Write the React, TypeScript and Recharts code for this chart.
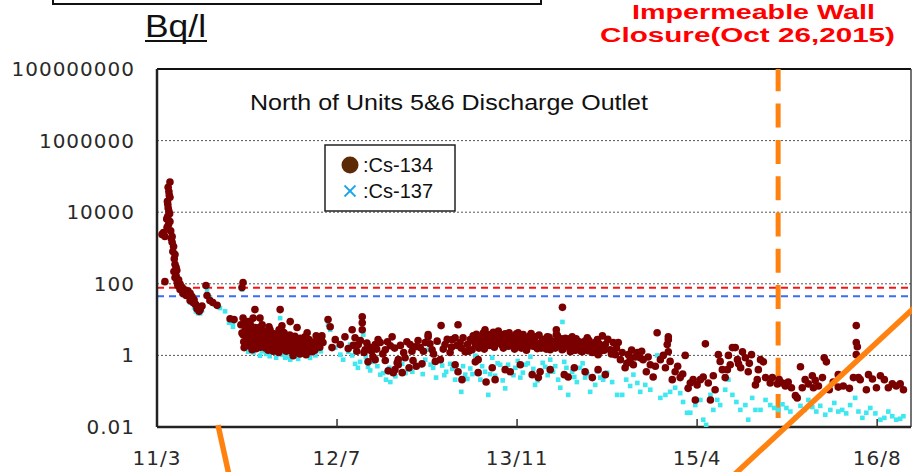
import React from 'react';
import { ScatterChart, Scatter, XAxis, YAxis, CartesianGrid, ReferenceLine } from 'recharts';

type Pt = [number, number]; // [days since 2011/3, Bq/l]

const xTicks = [0, 500, 1000, 1500, 2000];
const xTickLabels = ['11/3', '12/7', '13/11', '15/4', '16/8'];
const yTicks = [0.01, 1, 100, 10000, 1000000, 100000000];
const xMax = 2094;
const wallClosureDay = 1725;
const limitRed = 77;
const limitBlue = 45;

// Cs-134
const cs134Spike: Pt[] = [
  [36, 70000], [33, 38000], [36, 26000], [30, 16600], [33, 10700], [30, 7700], [36, 5500], [28, 3800],
  [22, 2100], [14, 2400], [42, 2100], [42, 1450], [44, 800], [50, 660], [50, 350], [53, 290], [22, 115],
  [47, 220], [50, 150], [56, 115], [58, 90], [64, 98], [70, 79], [75, 69], [81, 61], [86, 64], [92, 54],
  [97, 44], [103, 36], [108, 26], [114, 22], [100, 30], [92, 34], [81, 47], [72, 54], [64, 69], [58, 108],
  [53, 170], [120, 19], [125, 24], [136, 90], [139, 47], [155, 30], [167, 25], [147, 34], [203, 10.6],
  [214, 10], [239, 108], [236, 79], [31, 50000], [34, 30000], [29, 20000], [31, 13000], [35, 9000],
  [27, 6500], [32, 4500], [38, 3000], [18, 2700], [40, 1800], [46, 1100], [48, 500], [55, 240], [60, 130],
  [66, 85], [78, 58], [88, 50], [95, 40], [105, 28], [111, 20], [117, 17],
];
const cs134Y2011: Pt[] = [
  [272, 19], [342, 19], [239, 11], [253, 8.8], [267, 11], [286, 11], [292, 7.2], [245, 5.2], [258, 3.8],
  [272, 6], [281, 3.1], [300, 4.3], [314, 5.2], [320, 3.1], [328, 2.0], [336, 3.8], [350, 2.75], [356, 1.44],
  [364, 2.0], [375, 1.27], [384, 1.9], [392, 2.75], [397, 1.1], [406, 1.65], [411, 3.3], [425, 2.0],
  [439, 1.65], [242, 1.65], [264, 1.44], [283, 2.1], [308, 2.4], [347, 6.7], [370, 8.8], [389, 6], [417, 4.3],
  [250, 2.75], [292, 2.75], [339, 1.65], [378, 0.98], [431, 1.27], [447, 2.75], [233, 7.2], [239, 3.8],
  [247, 6.8], [256, 5.2], [261, 2.3], [270, 3.1], [278, 4.0], [289, 5.2], [297, 2.75], [306, 3.5], [311, 6.3],
  [317, 2.0], [325, 4.0], [331, 2.5], [339, 5.2], [345, 3.3], [353, 4.3], [358, 2.5], [367, 3.1], [372, 2.1],
  [381, 2.9], [386, 1.65], [395, 2.3], [403, 1.2], [408, 2.1], [414, 1.05], [422, 2.75], [428, 1.55],
  [436, 2.3], [442, 3.5], [450, 2.0], [456, 2.75], [236, 4.2], [241, 2.4], [244, 8.5], [249, 3.2],
  [252, 1.9], [255, 4.6], [259, 7.5], [262, 1.75], [265, 3.9], [268, 2.2], [273, 4.8], [276, 1.55],
  [279, 2.9], [284, 6], [287, 1.7], [290, 3.6], [294, 2.4], [298, 4.8], [301, 1.6], [305, 2.6], [309, 1.4],
  [312, 3.9], [316, 1.7], [319, 2.9], [323, 1.3], [327, 3.2], [330, 1.6], [334, 2.3], [338, 1.2], [341, 2.9],
  [344, 1.5], [348, 4.6], [352, 1.9], [355, 3], [359, 1.3], [362, 2.2], [366, 1.5], [369, 3.7], [373, 1.6],
  [377, 2.4], [380, 1.4], [383, 3.4], [387, 1.3], [391, 2.1], [394, 1.5], [398, 3], [401, 1.7], [405, 2.6],
  [409, 1.4], [413, 2.3], [416, 1.6], [420, 1.9], [424, 1.3], [427, 2.4], [433, 1.8], [438, 1.4], [444, 2.1],
  [452, 1.7], [458, 3.5], [461, 2.3],
];
const cs134Y2012: Pt[] = [
  [475, 10], [481, 6.3], [495, 2.75], [509, 2.0], [522, 3.3], [486, 1.65], [531, 1.55], [570, 12], [570, 8.2],
  [570, 5.2], [542, 5.2], [550, 3.1], [559, 2.0], [578, 1.44], [592, 1.65], [606, 2.0], [600, 0.92],
  [614, 2.75], [634, 1.44], [648, 1.86], [653, 3.3], [661, 0.40], [670, 0.55], [670, 0.76], [681, 0.33],
  [689, 0.86], [703, 2.0], [717, 1.75], [731, 1.65], [745, 2.3], [753, 3.3], [764, 1.44], [773, 0.68],
  [787, 0.76], [789, 6.8], [753, 3.8], [800, 2.0], [814, 1.2], [828, 3.1], [842, 2.3], [836, 7.2], [828, 0.55],
  [836, 0.35], [847, 0.21], [856, 1.27], [870, 2.75], [884, 2.0], [875, 1.44], [892, 0.76], [711, 0.72],
  [736, 0.58], [634, 0.72], [606, 0.76], [586, 0.66], [642, 0.37], [656, 0.33], [667, 0.62], [720, 0.5],
  [700, 0.45], [545, 1.9], [555, 1.3], [565, 2.6], [575, 1.2], [583, 2.2], [596, 1.3], [610, 1.5], [620, 2.3],
  [627, 1.1], [640, 2.4], [660, 1.6], [676, 1.9], [685, 1.2], [694, 2.4], [708, 1.3], [725, 2.6], [740, 1.3],
  [758, 2.1], [768, 1.1], [778, 2.5], [795, 1.5], [806, 2.8], [818, 1.7], [845, 1.6], [866, 1.3],
];
const cs134Y2013: Pt[] = [
  [898, 3.3], [911, 2.75], [925, 3.8], [939, 2.3], [953, 3.1], [967, 4.0], [981, 2.75], [995, 2.3],
  [1003, 3.5], [1014, 2.75], [1023, 2.0], [1031, 3.1], [1042, 2.5], [1050, 3.3], [1064, 2.0], [1078, 2.75],
  [1087, 1.75], [1098, 2.5], [1126, 22], [1109, 5.2], [1109, 3.8], [1153, 3.3], [1189, 2.5], [1203, 1.75],
  [1217, 2.3], [1231, 1.6], [1131, 2.0], [1159, 1.44], [1175, 1.75], [1120, 2.3], [884, 0.66], [892, 0.33],
  [914, 0.18], [931, 0.45], [939, 0.21], [967, 0.40], [981, 0.35], [1009, 0.55], [1042, 0.29], [1059, 0.24],
  [1064, 0.35], [1092, 0.40], [1131, 0.29], [1142, 0.25], [1159, 0.45], [1189, 0.35], [1209, 0.24],
  [1225, 0.40], [1245, 0.29], [911, 5.2], [948, 4.8], [1003, 4.3], [820, 2.75], [834, 1.9], [850, 3.1],
  [862, 2.0], [878, 3.5], [889, 2.5], [903, 1.9], [917, 3.3], [931, 2.1], [945, 2.75], [959, 1.9], [973, 2.6],
  [986, 3.3], [1000, 1.75], [1009, 2.0], [1028, 1.65], [1036, 3.5], [1056, 1.55], [1073, 2.3], [1084, 3.3],
  [1092, 1.44], [1103, 1.9], [1114, 2.75], [1125, 1.44], [1139, 2.3], [1148, 1.27], [1167, 2.0], [1181, 1.27],
  [1195, 3.1], [1209, 1.2], [1223, 2.75], [1225, 1.05], [882, 2.4], [887, 3.9], [894, 1.6], [900, 2.7],
  [906, 4.2], [909, 1.5], [914, 2.2], [920, 3.6], [923, 1.9], [928, 2.9], [934, 4.4], [937, 1.7], [942, 3.4],
  [950, 2.2], [956, 3.8], [962, 1.6], [965, 2.6], [970, 3.5], [976, 1.8], [978, 4.3], [984, 2.3], [990, 3.1],
  [993, 1.5], [998, 4], [1006, 2.6], [1012, 1.6], [1017, 3.8], [1020, 2.3], [1026, 1.4], [1033, 2.4],
  [1039, 4.1], [1045, 1.8], [1048, 2.9], [1053, 2.2], [1061, 3.7], [1067, 1.6], [1070, 2.8], [1076, 2.1],
  [1081, 1.5], [1089, 3.2], [1095, 2.1], [1106, 1.6], [1112, 3.6], [1117, 1.9], [1123, 2.9], [1128, 1.5],
  [1134, 3], [1137, 1.8], [1145, 2.9], [1150, 1.9], [1156, 2.4], [1162, 1.4], [1164, 2.9], [1170, 1.6],
  [1173, 2.4], [1178, 1.3], [1184, 2.1], [1186, 1.5], [1192, 1.9], [1198, 1.35], [1200, 2.6], [1206, 1.6],
  [1212, 1.9], [1214, 1.25], [1220, 1.7], [1228, 2.1], [1234, 1.35],
];
const cs134Y2015: Pt[] = [
  [1237, 3.5], [1245, 2.0], [1259, 1.44], [1267, 2.3], [1273, 1.05], [1281, 2.3], [1287, 0.76], [1300, 0.45],
  [1309, 1.05], [1314, 0.76], [1323, 0.55], [1334, 1.2], [1342, 0.86], [1350, 0.76], [1359, 0.35],
  [1370, 0.55], [1378, 0.25], [1389, 4.3], [1398, 0.76], [1406, 1.0], [1417, 2.0], [1420, 2.75], [1420, 3.3],
  [1420, 1.27], [1425, 0.68], [1431, 0.21], [1439, 0.35], [1453, 0.24], [1467, 1.0], [1475, 0.12],
  [1481, 0.17], [1489, 0.21], [1500, 0.15], [1509, 0.21], [1517, 0.25], [1523, 2.1], [1531, 0.17],
  [1537, 0.057], [1545, 0.27], [1550, 0.11], [1559, 1.05], [1564, 0.68], [1570, 0.40], [1578, 0.24],
  [1587, 1.0], [1592, 0.55], [1598, 1.65], [1606, 1.65], [1612, 0.76], [1615, 0.58], [1626, 1.27],
  [1634, 0.86], [1642, 0.35], [1651, 1.05], [1662, 0.15], [1667, 0.21], [1676, 0.76], [1670, 0.40],
  [1495, 0.057], [1242, 1.4], [1252, 2.8], [1262, 1.1], [1276, 1.6], [1292, 1.2], [1305, 0.6], [1318, 1.4],
  [1328, 0.9], [1346, 1.3], [1364, 0.9], [1384, 0.5], [1412, 0.45], [1446, 0.5], [1460, 0.3], [1584, 0.4],
  [1621, 0.45], [1645, 0.6],
];
const cs134Y2016: Pt[] = [
  [1684, 0.66], [1690, 0.24], [1703, 0.17], [1709, 0.24], [1723, 0.16], [1728, 0.21], [1737, 0.17],
  [1745, 0.14], [1753, 0.18], [1762, 0.125], [1773, 0.075], [1778, 0.065], [1787, 0.48], [1792, 0.125],
  [1800, 0.21], [1809, 0.16], [1823, 0.125], [1828, 0.20], [1837, 0.14], [1848, 0.24], [1853, 0.86],
  [1859, 0.66], [1867, 0.11], [1878, 0.18], [1892, 0.13], [1906, 0.14], [1923, 0.12], [1934, 0.24],
  [1942, 6.8], [1942, 2.3], [1945, 1.75], [1942, 1.05], [1948, 0.24], [1953, 0.21], [1976, 0.29],
  [1987, 0.22], [1998, 0.125], [2009, 0.27], [2020, 0.21], [2031, 0.125], [2042, 0.16], [2053, 0.14],
  [2064, 0.16], [2073, 0.11], [1970, 0.11], [1892, 0.29], [1820, 0.27],
];

// Cs-137
const cs137Spike: Pt[] = [
  [108, 17], [114, 15], [97, 36], [139, 69], [147, 42], [161, 26], [175, 21], [189, 17], [200, 8.2],
  [211, 6.3], [211, 8.2], [236, 69], [92, 30], [103, 22], [120, 15], [125, 18],
];
const cs137Y2011: Pt[] = [
  [245, 2.0], [253, 1.27], [264, 2.75], [275, 1.44], [286, 0.98], [303, 1.1], [320, 1.44], [331, 0.86],
  [347, 1.05], [356, 0.86], [370, 0.76], [384, 0.92], [397, 1.05], [411, 1.44], [420, 0.98], [434, 1.2],
  [447, 1.44], [286, 2.75], [272, 5.2], [342, 11], [308, 2.0], [240, 4.5], [258, 6], [295, 3], [330, 2.3],
  [365, 1.8], [400, 2.2], [248, 3.2], [262, 1.6], [268, 1.2], [280, 2.1], [291, 1.3], [300, 1.9], [313, 0.95],
  [326, 1.2], [338, 1.6], [352, 1.3], [360, 0.9], [378, 1.2], [392, 0.8], [405, 1.1], [425, 0.85], [440, 1.0],
  [455, 1.3],
];
const cs137Y2012: Pt[] = [
  [481, 5.2], [475, 7.2], [495, 1.65], [509, 1.05], [517, 0.76], [531, 1.27], [536, 2.0], [550, 0.58],
  [564, 0.66], [573, 3.8], [586, 0.48], [598, 0.66], [606, 0.86], [620, 0.29], [636, 0.21], [648, 0.18],
  [656, 0.35], [670, 0.66], [681, 0.58], [698, 0.40], [709, 0.35], [720, 0.48], [731, 0.52], [745, 0.76],
  [753, 1.44], [767, 0.45], [781, 2.3], [792, 0.52], [803, 0.35], [814, 0.58], [828, 0.21], [839, 0.35],
  [845, 0.096], [856, 0.29], [870, 0.43], [884, 0.98], [542, 1.0], [558, 0.45], [580, 0.9], [592, 0.38],
  [612, 0.5], [628, 0.32], [645, 0.45], [662, 0.26], [690, 0.32], [715, 0.62], [738, 0.3], [760, 0.55],
  [775, 0.24], [798, 0.28], [820, 0.42], [850, 0.5], [862, 0.22], [876, 0.3],
];
const cs137Y2013: Pt[] = [
  [898, 0.21], [911, 0.35], [920, 0.079], [931, 0.86], [939, 0.27], [953, 0.55], [967, 0.12], [981, 0.35],
  [995, 0.45], [1009, 0.24], [1023, 0.55], [1037, 0.92], [1050, 0.15], [1064, 0.35], [1078, 0.48],
  [1092, 0.76], [1100, 0.35], [1126, 8.6], [1114, 0.21], [1120, 0.125], [1131, 0.66], [1142, 0.079],
  [1153, 0.35], [1159, 0.25], [1175, 0.45], [1189, 0.24], [1203, 0.096], [1217, 0.15], [1231, 0.24],
  [903, 0.5], [925, 0.3], [946, 0.6], [960, 0.2], [975, 0.55], [990, 0.28], [1002, 0.7], [1016, 0.33],
  [1030, 0.6], [1045, 0.42], [1057, 0.2], [1071, 0.62], [1085, 0.28], [1106, 0.5], [1137, 0.45], [1166, 0.18],
  [1182, 0.6], [1195, 0.3], [1222, 0.36],
];
const cs137Y2015: Pt[] = [
  [1239, 0.21], [1250, 0.33], [1264, 0.18], [1278, 0.079], [1292, 0.079], [1303, 0.21], [1314, 0.14],
  [1323, 0.29], [1334, 0.17], [1342, 0.096], [1356, 0.15], [1370, 0.11], [1389, 1.0], [1398, 0.065],
  [1412, 0.079], [1425, 0.096], [1439, 0.125], [1453, 0.088], [1461, 0.05], [1472, 0.025], [1481, 0.025],
  [1495, 0.041], [1509, 0.057], [1517, 0.016], [1525, 0.0115], [1537, 0.079], [1545, 0.030], [1556, 0.057],
  [1564, 0.041], [1578, 0.11], [1587, 0.21], [1598, 0.079], [1609, 0.05], [1620, 0.030], [1634, 0.041],
  [1642, 0.016], [1653, 0.065], [1662, 0.030], [1676, 0.030],
];
const cs137Y2016: Pt[] = [
  [1690, 0.057], [1703, 0.041], [1714, 0.034], [1726, 0.030], [1737, 0.043], [1748, 0.034], [1759, 0.027],
  [1773, 0.018], [1787, 0.039], [1798, 0.030], [1809, 0.057], [1820, 0.036], [1831, 0.027], [1842, 0.039],
  [1856, 0.022], [1870, 0.030], [1881, 0.047], [1892, 0.027], [1903, 0.030], [1914, 0.024], [1925, 0.041],
  [1939, 0.065], [1948, 0.027], [1959, 0.018], [1970, 0.025], [1981, 0.034], [1995, 0.024], [2009, 0.016],
  [2020, 0.018], [2031, 0.027], [2042, 0.020], [2053, 0.016], [2064, 0.017], [2073, 0.020],
];

const toRows = (parts: Pt[][]) => parts.flat().map(([x, y]) => ({ x, y }));
const cs134 = toRows([cs134Spike, cs134Y2011, cs134Y2012, cs134Y2013, cs134Y2015, cs134Y2016]);
const cs137 = toRows([cs137Spike, cs137Y2011, cs137Y2012, cs137Y2013, cs137Y2015, cs137Y2016]);

const tickFont = { fontFamily: 'DejaVu Sans', fontSize: 20, fill: '#2a2a2a', letterSpacing: 1 };
const ORANGE = '#ff8210';

const YTick = ({ x, y, payload }: any) => (
  <text x={x - 22} y={y} dy={7} textAnchor="end" {...tickFont}>
    {String(payload.value)}
  </text>
);

const XTick = ({ x, y, payload }: any) => {
  const i = xTicks.indexOf(payload.value);
  return (
    <g>
      {i > 0 && <line x1={x} x2={x} y1={y - 8} y2={y} stroke="#333" strokeWidth={1.5} />}
      <text x={x} y={y + 38} textAnchor="middle" {...tickFont}>
        {xTickLabels[i]}
      </text>
    </g>
  );
};

const Dot134 = (p: any) => <circle cx={p.cx} cy={p.cy} r={3.8} fill="#7a0000" />;
const Sq137 = (p: any) => <rect x={p.cx - 2.3} y={p.cy - 2.3} width={4.6} height={4.6} fill="#3fe8f0" />;

export default function App() {
  return (
    <div style={{ position: 'absolute', left: 0, top: 0, width: 912, height: 472, background: '#fff' }}>
      <ScatterChart width={912} height={472} margin={{ top: 69, right: 1, bottom: 0, left: 0 }}>
        <CartesianGrid vertical={false} stroke="#555" strokeDasharray="2 2" />
        <XAxis
          type="number"
          dataKey="x"
          domain={[0, xMax]}
          ticks={xTicks}
          interval={0}
          height={45}
          tickSize={0}
          tickMargin={0}
          tick={<XTick />}
          axisLine={{ stroke: '#222', strokeWidth: 2.5 }}
          tickLine={false}
          allowDataOverflow
        />
        <YAxis
          type="number"
          dataKey="y"
          scale="log"
          domain={[0.01, 100000000]}
          ticks={yTicks}
          interval={0}
          width={157}
          tickSize={0}
          tickMargin={0}
          tick={<YTick />}
          axisLine={{ stroke: '#222', strokeWidth: 2.5 }}
          tickLine={false}
          allowDataOverflow
        />
        <ReferenceLine y={100000000} stroke="#111" strokeWidth={2} />
        <ReferenceLine x={xMax} stroke="#444" strokeWidth={1.5} />
        <ReferenceLine y={limitRed} stroke="#ff1010" strokeWidth={2} strokeDasharray="7 5" />
        <ReferenceLine y={limitBlue} stroke="#3a6cf4" strokeWidth={2} strokeDasharray="7 5" />
        <Scatter data={cs137} shape={Sq137} isAnimationActive={false} />
        <Scatter data={cs134} shape={Dot134} isAnimationActive={false} />
        <ReferenceLine
          x={wallClosureDay}
          stroke={ORANGE}
          strokeWidth={5}
          strokeDasharray="24 12.3"
          strokeDashoffset={27.3}
        />
      </ScatterChart>
      <svg
        width={912}
        height={472}
        style={{ position: 'absolute', left: 0, top: 0, pointerEvents: 'none' }}
        fontFamily="'Liberation Sans', Arial, sans-serif"
      >
        <path d="M53,-2 V4 H541 V-2" fill="none" stroke="#111" strokeWidth={2} />
        <text x={145} y={37} fontSize={31} fill="#111" textLength={61} lengthAdjust="spacingAndGlyphs">
          Bq/l
        </text>
        <line x1={145} x2={207} y1={41} y2={41} stroke="#111" strokeWidth={2} />
        <g fill="#ff0000" fontWeight="bold" fontSize={20}>
          <text x={632} y={19} textLength={243} lengthAdjust="spacingAndGlyphs">
            Impermeable Wall
          </text>
          <text x={600} y={42} textLength={295} lengthAdjust="spacingAndGlyphs">
            Closure(Oct 26,2015)
          </text>
        </g>
        <text x={250} y={110} fontSize={22} fill="#111" textLength={398} lengthAdjust="spacingAndGlyphs">
          North of Units 5&amp;6 Discharge Outlet
        </text>
        <rect x={325} y={145} width={130} height={66} fill="#fff" stroke="#222" strokeWidth={1.5} />
        <circle cx={350} cy={165} r={8.5} fill="#5c2a06" />
        <text x={363} y={172} fontSize={20} fill="#111">:Cs-134</text>
        <g stroke="#1ea4ee" strokeWidth={1.8}>
          <line x1={344.5} x2={355.5} y1={185.5} y2={196.5} />
          <line x1={344.5} x2={355.5} y1={196.5} y2={185.5} />
        </g>
        <text x={363} y={198} fontSize={20} fill="#111">:Cs-137</text>
        <g stroke={ORANGE} strokeWidth={5.5} strokeLinecap="butt">
          <line x1={218} y1={425} x2={229} y2={475} />
          <line x1={735} y1={474} x2={914} y2={308} />
        </g>
      </svg>
    </div>
  );
}
